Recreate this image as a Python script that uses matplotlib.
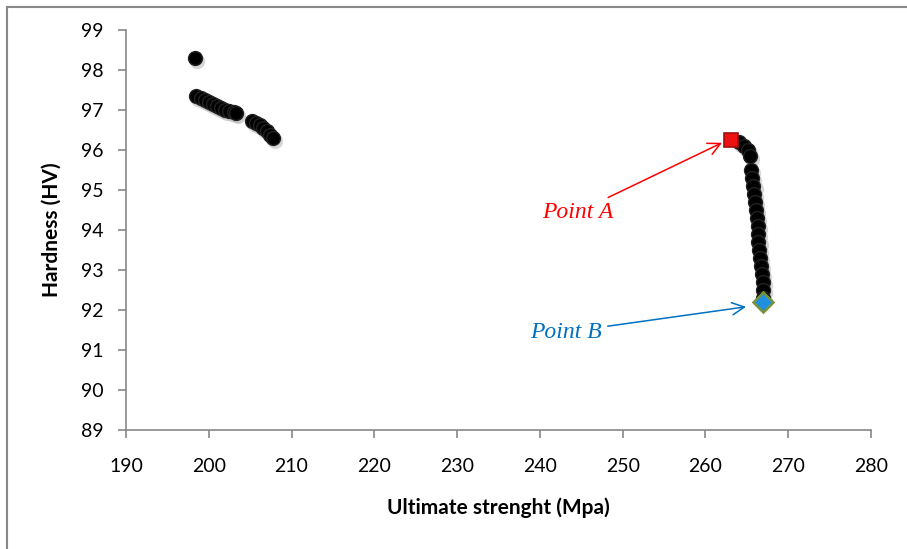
import matplotlib.pyplot as plt
from matplotlib.lines import Line2D
import matplotlib.transforms as mtransforms

# left cluster
left_x = [198.3, 198.5, 199.0, 199.5, 200.0, 200.5, 201.0, 201.5, 202.0, 202.5, 203.0, 203.3,
          205.2, 205.7, 206.2, 206.6, 207.0, 207.4, 207.8]
left_y = [98.3, 97.35, 97.3, 97.25, 97.2, 97.15, 97.1, 97.05, 97.0, 96.98, 96.95, 96.92,
          96.72, 96.68, 96.62, 96.55, 96.47, 96.38, 96.3]

# right cluster
right_x = [264.0, 264.6, 265.1, 265.4, 265.5, 265.6, 265.8, 265.9, 266.0, 266.1, 266.2,
           266.3, 266.3, 266.4, 266.5, 266.6, 266.7, 266.8, 266.9, 266.9, 267.0]
right_y = [96.2, 96.1, 96.0, 95.85, 95.5, 95.3, 95.1, 94.9, 94.7, 94.5, 94.3,
           94.1, 93.9, 93.7, 93.5, 93.3, 93.1, 92.9, 92.7, 92.5, 92.3]

point_a = (263.1, 96.25)
point_b = (266.9, 92.2)

fig = plt.figure(figsize=(9.07, 5.49), dpi=100)
ax = fig.add_axes([126 / 907, 1 - 430 / 549, 745 / 907, 400 / 549])

grey = '#888888'
fig.add_artist(Line2D([7 / 907, 1], [1 - 7 / 549, 1 - 7 / 549], transform=fig.transFigure,
                      color=grey, lw=1.5))
fig.add_artist(Line2D([7 / 907, 7 / 907], [0, 1 - 7 / 549], transform=fig.transFigure,
                      color=grey, lw=1.5))

xs = left_x + right_x
ys = left_y + right_y
shadow = mtransforms.offset_copy(ax.transData, fig=fig, x=1.5, y=-2, units='points')
ax.plot(xs, ys, 'o', color='#bbbbbb', ms=11, mec='none', alpha=0.6, transform=shadow)
ax.plot(xs, ys, 'o', color='black', ms=10, mec='#222222')

ax.plot(*point_a, 's', color='#ee1111', ms=10, mec='#a01010', mew=1.2, zorder=5)
ax.plot(*point_b, 'D', color='#1f8fe0', ms=10, mec='#77933c', mew=1.8, zorder=5)

serif = ['Liberation Serif', 'DejaVu Serif']
ax.annotate('Point A', xy=(262.0, 96.18), xytext=(244.6, 94.45), color='#ff0000',
            fontsize=17, style='italic', family=serif, ha='center', va='center',
            arrowprops=dict(arrowstyle='->', color='#ff0000', lw=1.1,
                            mutation_scale=22, shrinkA=2, shrinkB=0))
ax.annotate('Point B', xy=(264.9, 92.08), xytext=(243.2, 91.45), color='#0070c0',
            fontsize=17, style='italic', family=serif, ha='center', va='center',
            arrowprops=dict(arrowstyle='->', color='#0070c0', lw=1.1,
                            mutation_scale=22, shrinkA=2, shrinkB=0))

ax.set_xlim(190, 280)
ax.set_ylim(89, 99)
ax.set_xticks(range(190, 281, 10))
ax.set_yticks(range(89, 100))

for s in ['top', 'right']:
    ax.spines[s].set_visible(False)
for s in ['left', 'bottom']:
    ax.spines[s].set_color(grey)
    ax.spines[s].set_linewidth(1.2)
ax.tick_params(colors=grey, direction='out', length=6, width=1.2, labelcolor='black',
               labelsize=14)
ax.tick_params(axis='x', pad=14)
ax.tick_params(axis='y', pad=10)
for lab in ax.get_xticklabels() + ax.get_yticklabels():
    lab.set_family('Lato')

ax.set_xlabel('Ultimate strenght (Mpa)', fontsize=15, fontweight='bold', family='Lato',
              labelpad=16)
ax.set_ylabel('Hardness (HV)', fontsize=15, fontweight='bold', family='Lato', labelpad=14)

fig.savefig('out.png', dpi=100)
